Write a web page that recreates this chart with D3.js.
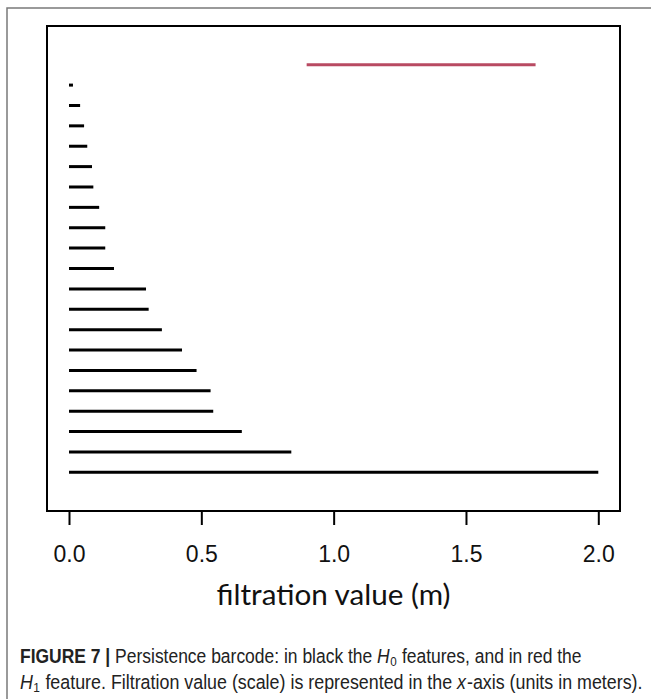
<!DOCTYPE html>
<html>
<head>
<meta charset="utf-8">
<script src="https://cdn.jsdelivr.net/npm/d3@7"></script>
<style>
  html, body { margin: 0; padding: 0; background: #fff; }
  svg { display: block; }
</style>
</head>
<body>
<svg id="chart" width="651" height="699"></svg>
<script>
// H0 bars (birth at 0), listed from the bottom of the barcode upward
const h0Births = [0, 0, 0, 0, 0, 0, 0, 0, 0, 0, 0, 0, 0, 0, 0, 0, 0, 0, 0, 0];
const h0Deaths = [2.0, 0.840, 0.653, 0.545, 0.535, 0.482, 0.427, 0.351, 0.301, 0.291,
                  0.170, 0.137, 0.137, 0.114, 0.092, 0.087, 0.069, 0.057, 0.042, 0.015];
// single H1 feature, drawn at the top
const h1Births = [0.898];
const h1Deaths = [1.763];
const xTicks = [0, 0.5, 1.0, 1.5, 2.0];
const xTickLabels = ["0.0", "0.5", "1.0", "1.5", "2.0"];

const bars = h0Deaths.map((d, i) => ({ birth: h0Births[i], death: d, dim: 0 }))
  .concat(h1Deaths.map((d, i) => ({ birth: h1Births[i], death: d, dim: 1 })));

const svg = d3.select("#chart");
const box = { left: 47, right: 620, top: 26, bottom: 511 };

// figure frame
svg.append("path")
  .attr("d", "M7,699 V8 H651")
  .attr("fill", "none")
  .attr("stroke", "#7a7a7a")
  .attr("stroke-width", 1.5);

const x = d3.scaleLinear().domain([0, 2]).range([69, 598.3]);
const y = d3.scaleLinear().domain([-1.9, bars.length + 0.9]).range([box.bottom, box.top]);

// barcode lines
svg.append("g").selectAll("line")
  .data(bars)
  .join("line")
  .attr("x1", d => x(d.birth))
  .attr("x2", d => x(d.death))
  .attr("y1", (d, i) => y(i))
  .attr("y2", (d, i) => y(i))
  .attr("stroke", d => d.dim === 0 ? "#000" : "#b84a62")
  .attr("stroke-width", 3)
  .attr("stroke-linecap", "butt");

// plot box
svg.append("rect")
  .attr("x", box.left).attr("y", box.top)
  .attr("width", box.right - box.left).attr("height", box.bottom - box.top)
  .attr("fill", "none").attr("stroke", "#000").attr("stroke-width", 2);

// x axis
const axis = svg.append("g")
  .attr("transform", `translate(0,${box.bottom})`)
  .call(d3.axisBottom(x).tickValues(xTicks)
    .tickFormat((d, i) => xTickLabels[i])
    .tickSize(14).tickPadding(21));
axis.select(".domain").remove();
axis.selectAll(".tick line").attr("stroke", "#000").attr("stroke-width", 2);
axis.selectAll(".tick text")
  .attr("fill", "#111")
  .style("font-family", "'Liberation Sans', Arial, sans-serif")
  .style("font-size", "23px");

svg.append("text")
  .attr("x", (box.left + box.right) / 2)
  .attr("y", 605)
  .attr("text-anchor", "middle")
  .attr("textLength", 234)
  .attr("lengthAdjust", "spacingAndGlyphs")
  .style("font-family", "Lato, 'Open Sans', sans-serif")
  .style("font-size", "28px")
  .attr("fill", "#111")
  .text("filtration value (m)");

// caption: each line is set in a narrowed sans, squeezed horizontally to its width
const cap = svg.append("g")
  .style("font-family", "'Liberation Sans', Arial, sans-serif")
  .style("font-size", "19.5px")
  .attr("fill", "#222");

function captionLine(yPos, width, parts) {
  const t = cap.append("text").attr("x", 0).attr("y", 0);
  parts.forEach(p => {
    const s = t.append("tspan").text(p.text);
    if (p.bold) s.attr("font-weight", "bold");
    if (p.italic) s.attr("font-style", "italic");
    if (p.sub) s.attr("dy", 3).attr("dx", 0.5).style("font-size", "13px");
    if (p.after) s.attr("dy", -3).attr("dx", 0.5);
    if (p.dx) s.attr("dx", p.dx);
  });
  const natural = t.node().getComputedTextLength();
  t.attr("transform", `translate(20,${yPos}) scale(${width / natural},1)`);
}

captionLine(663, 561, [
  { text: "FIGURE 7 | ", bold: true },
  { text: "Persistence barcode: in black the " },
  { text: "H", italic: true },
  { text: "0", sub: true },
  { text: " features, and in red the", after: true }
]);
captionLine(689, 621, [
  { text: "H", italic: true },
  { text: "1", sub: true },
  { text: " feature. Filtration value (scale) is represented in the ", after: true },
  { text: "x", italic: true },
  { text: "-axis (units in meters).", dx: 1 }
]);
</script>
</body>
</html>
